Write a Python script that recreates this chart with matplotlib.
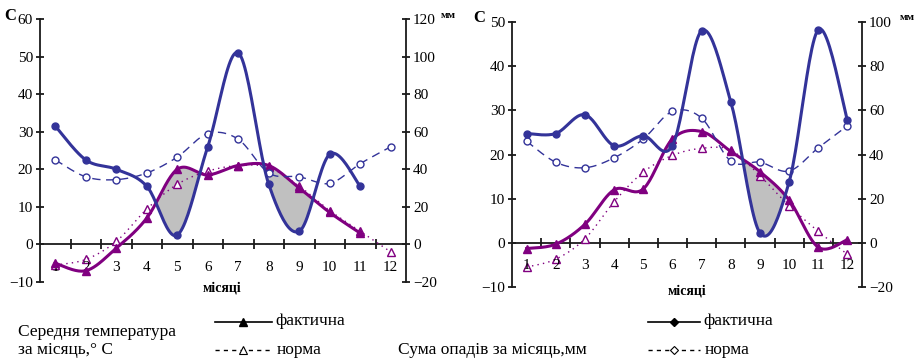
import numpy as np
import matplotlib.pyplot as plt

plt.rcParams['font.family'] = ['Liberation Serif', 'DejaVu Serif']

months = list(range(1, 13))

# left chart
t_fact_1 = [-5, -7, -1, 7, 20, 18.5, 21, 21, 15, 8.5, 3]
t_norm_1 = [-5.5, -4, 0.8, 9.4, 16, 19.5, 21, 20.5, 15.5, 9, 3.5, -2]
p_fact_1 = [63, 45, 40, 31, 5, 52, 102, 32, 7, 48, 31]
p_norm_1 = [45, 36, 34.5, 38, 46.5, 59, 56, 38, 36, 32.5, 43, 52]

# right chart
t_fact_2 = [-1.3, -0.3, 4.2, 12, 12.2, 23.5, 25.2, 20.7, 16.1, 9.7, -1, 0.7]
t_norm_2 = [-5.5, -3.7, 0.9, 9.3, 16, 19.8, 21.4, 21, 15.2, 8.4, 2.6, -2.6]
p_fact_2 = [49.5, 49.5, 58, 44, 48.5, 44, 96, 64, 4.5, 27.5, 96.5, 55.5]
p_norm_2 = [46, 36.5, 34, 38.5, 47, 59.5, 56.5, 37, 36.5, 32.5, 43, 53]

BLUE = '#333399'
PURPLE = '#800080'
AXC = '#1a1a1a'


def smooth(x, y, n=24):
    # excel-like smoothed line (bezier through the points)
    pts = np.column_stack([x, y]).astype(float)
    P = np.vstack([pts[0], pts, pts[-1]])
    out = []
    t = np.linspace(0, 1, n)[:, None]
    for i in range(1, len(P) - 2):
        p0, p1, p2, p3 = P[i - 1], P[i], P[i + 1], P[i + 2]
        c1 = p1 + (p2 - p0) / 6
        c2 = p2 - (p3 - p1) / 6
        seg = (1 - t)**3 * p1 + 3 * (1 - t)**2 * t * c1 + 3 * (1 - t) * t**2 * c2 + t**3 * p2
        out.append(seg if i == 1 else seg[1:])
    s = np.vstack(out)
    return s[:, 0], s[:, 1]


def make_chart(fig, rect, tlim, plim, tf, tn, pf, pn):
    ax = fig.add_axes(rect)
    ax2 = ax.twinx()
    ax.set_xlim(0.5, 12.5)
    ax.set_ylim(*tlim)
    ax2.set_ylim(*plim)

    # drought area: precipitation (in temp scale) below temperature
    xt, yt = smooth(months[:len(tf)], tf)
    xp, yp = smooth(months[:len(pf)], np.array(pf) / 2.0)
    gx = np.linspace(1, min(len(tf), len(pf)), 800)
    gt = np.interp(gx, xt, yt)
    gp = np.interp(gx, xp, yp)
    ax.fill_between(gx, gp, gt, where=gp < gt, color='#c0c0c0', lw=0, zorder=1)

    x, y = smooth(months[:len(tn)], tn)
    ax.plot(x, y, color=PURPLE, lw=1, ls=(0, (1, 3)), zorder=2)
    ax.plot(months[:len(tn)], tn, ls='none', marker='^', mfc='white', mec=PURPLE,
            ms=6, mew=1, zorder=3)
    x, y = smooth(months[:len(tf)], tf)
    ax.plot(x, y, color=PURPLE, lw=2.2, zorder=4)
    ax.plot(months[:len(tf)], tf, ls='none', marker='^', color=PURPLE, ms=6, zorder=4)

    x, y = smooth(months[:len(pn)], pn)
    ax2.plot(x, y, color=BLUE, lw=1, ls=(0, (6, 4)))
    ax2.plot(months[:len(pn)], pn, ls='none', marker='o', mfc='white', mec=BLUE,
             ms=5, mew=1)
    x, y = smooth(months[:len(pf)], pf)
    ax2.plot(x, y, color=BLUE, lw=2.2)
    ax2.plot(months[:len(pf)], pf, ls='none', marker='o', color=BLUE, ms=5)

    for a in (ax, ax2):
        a.patch.set_visible(False)
        a.spines['top'].set_visible(False)
        a.spines['bottom'].set_visible(False)
    ax.spines['right'].set_visible(False)
    ax2.spines['left'].set_visible(False)
    ax.spines['left'].set_color(AXC)
    ax.spines['left'].set_linewidth(1.3)
    ax2.spines['right'].set_color(AXC)
    ax2.spines['right'].set_linewidth(1.3)

    ax.set_yticks(np.arange(tlim[0], tlim[1] + 1, 10))
    ax2.set_yticks(np.arange(plim[0], plim[1] + 1, 20))
    ax.tick_params(axis='y', direction='inout', length=6, width=1.3, color=AXC,
                   labelsize=11, pad=2)
    ax2.tick_params(axis='y', direction='inout', length=6, width=1.3, color=AXC,
                    labelsize=11, pad=2)

    # zero line with category ticks
    ax.axhline(0, color=AXC, lw=1.3, zorder=1.5)
    ax.set_xticks([])
    for b in np.arange(1.5, 12, 1):
        ax.plot([b], [0], marker='|', color=AXC, ms=7, mew=1.3, zorder=1.5)
    for m in months:
        ax.annotate(str(m), xy=(m, 0), xytext=(0, -23), textcoords='offset pixels',
                    ha='center', va='center', fontsize=11)
    return ax, ax2


fig = plt.figure(figsize=(9.17, 3.59), dpi=100)
W, H = 917, 359


def rect(x0, x1, ytop, ybot):
    return [x0 / W, 1 - ybot / H, (x1 - x0) / W, (ybot - ytop) / H]


make_chart(fig, rect(40, 406, 19, 282), (-10, 60), (-20, 120),
           t_fact_1, t_norm_1, p_fact_1, p_norm_1)
make_chart(fig, rect(512, 862, 22, 287), (-10, 50), (-20, 100),
           t_fact_2, t_norm_2, p_fact_2, p_norm_2)

# axis captions
fig.text(10 / W, 1 - 16 / H, 'С', fontsize=12, fontweight='bold', ha='center', va='center')
fig.text(479 / W, 1 - 18 / H, 'С', fontsize=12, fontweight='bold', ha='center', va='center')
fig.text(448 / W, 1 - 15 / H, 'мм', fontsize=8, fontweight='bold', ha='center', va='center')
fig.text(907 / W, 1 - 17 / H, 'мм', fontsize=8, fontweight='bold', ha='center', va='center')
fig.text(222 / W, 1 - 288 / H, 'місяці', fontsize=10, fontweight='bold', ha='center', va='center')
fig.text(687 / W, 1 - 291 / H, 'місяці', fontsize=10, fontweight='bold', ha='center', va='center')

# legend area
lax = fig.add_axes([0, 0, 1, 1], facecolor='none')
lax.set_xlim(0, W)
lax.set_ylim(H, 0)
lax.axis('off')
lax.text(18, 332, 'Середня температура', fontsize=12.5, va='center')
lax.text(18, 350, 'за місяць,° С', fontsize=12.5, va='center')
lax.text(398, 350, 'Сума опадів за місяць,мм', fontsize=12.5, va='center')

lax.plot([215, 272], [322, 322], color='black', lw=1.2)
lax.plot([243], [322], marker='^', color='black', ms=6)
lax.plot([215, 272], [350, 350], color='black', lw=1, ls=(0, (3, 3)))
lax.plot([243], [350], marker='^', mfc='white', mec='black', ms=6, mew=0.8)
lax.text(275, 321, 'фактична', fontsize=12.5, va='center')
lax.text(277, 350, 'норма', fontsize=12.5, va='center')

lax.plot([648, 700], [322, 322], color='black', lw=1.2)
lax.plot([674], [322], marker='D', color='black', ms=4)
lax.plot([648, 700], [350, 350], color='black', lw=1, ls=(0, (3, 3)))
lax.plot([674], [350], marker='D', mfc='white', mec='black', ms=4, mew=0.8)
lax.text(703, 321, 'фактична', fontsize=12.5, va='center')
lax.text(705, 350, 'норма', fontsize=12.5, va='center')

plt.savefig('out.png', dpi=100)
